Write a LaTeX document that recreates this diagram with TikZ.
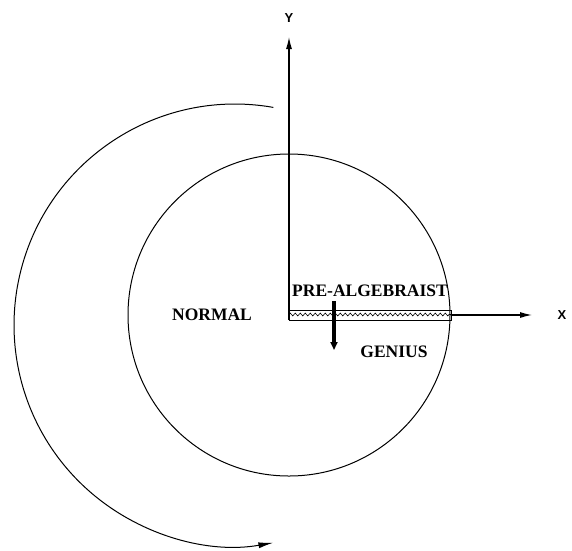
\documentclass[tikz,border=0pt]{standalone}
\usepackage{fontspec}
\setmainfont{Liberation Serif}
\newfontfamily\axisfont{Liberation Sans}
\usetikzlibrary{arrows.meta,decorations.pathmorphing}
\begin{document}
\begin{tikzpicture}[x=1pt,y=-1pt,
  thinline/.style={line width=1pt},
  axisline/.style={line width=1.2pt,-{Latex[length=12pt,width=6pt]}},
  regionlbl/.style={font=\fontsize{17.5}{20}\selectfont\bfseries, inner sep=0pt, anchor=base},
  axislbl/.style={font=\axisfont\fontsize{13}{15}\selectfont\bfseries, inner sep=0pt, anchor=base}]
\useasboundingbox (0,0) rectangle (572,550);
% key points
\coordinate (O) at (289,315);
\coordinate (boxtl) at (289,310);
\coordinate (boxbr) at (451,320);
\coordinate (yend) at (289,37);
\coordinate (xstart) at (451,315);
\coordinate (xend) at (532,315);
\coordinate (arcstart) at (273.4,107.4);
% inner circle
\draw[thinline] (O) circle[radius=161];
% outer arc with arrow
\draw[thinline,-{Latex[length=15pt,width=6pt]}] (arcstart) arc[start angle=-80, end angle=-280, radius=221];
% strip
\draw[line width=0.9pt] (boxtl) rectangle (boxbr);
\draw[line width=0.6pt, decorate, decoration={zigzag, segment length=5pt, amplitude=1.4pt}] (289,314.5) -- (451,314.5);
% axes
\draw[axisline] (289,320) -- (yend);
\draw[axisline] (xstart) -- (xend);
\node[axislbl] (ylab) at (289,22) {Y};
\node[axislbl] (xlab) at (562,319.5) {X};
% labels
\node[regionlbl] (normal) at (212,320) {NORMAL};
\node[regionlbl] (prealg) at (370,296) {PRE-ALGEBRAIST};
\node[regionlbl] (genius) at (394,357) {GENIUS};
% thick arrow
\coordinate (tstart) at (334,301);
\coordinate (tend) at (334,350);
\draw[line width=3.5pt, -{Triangle[length=8pt,width=7pt]}] (tstart) -- (tend);
\end{tikzpicture}
\end{document}
